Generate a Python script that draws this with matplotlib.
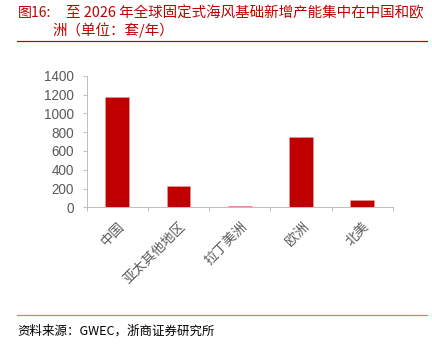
import matplotlib as mpl
mpl.use('Agg')
import matplotlib.pyplot as plt

plt.rcParams['font.family'] = ['Noto Sans CJK SC', 'DejaVu Sans']

# data
regions = ['中国', '亚太其他地区', '拉丁美洲', '欧洲', '北美']
capacity = [1170, 228, 14, 745, 78]
yticks = [0, 200, 400, 600, 800, 1000, 1200, 1400]

title_fig = '图16:'
title_1 = '至 2026 年全球固定式海风基础新增产能集中在中国和欧'
title_2 = '洲（单位：套/年）'
source = '资料来源：GWEC，浙商证券研究所'

# figure (pixels = points at dpi 72)
W, H = 432, 359
dpi = 72
fig = plt.figure(figsize=(W / dpi, H / dpi), dpi=dpi)

red = '#C00000'
grey = '#595959'
axis_grey = '#BFBFBF'

ax_left, ax_right = 86.7, 392.7
ax_top, ax_bottom = 75.7, 207.3
ax = fig.add_axes([ax_left / W, 1 - ax_bottom / H,
                   (ax_right - ax_left) / W, (ax_bottom - ax_top) / H])

x = list(range(len(regions)))
ax.bar(x, capacity, width=0.39, color=red, edgecolor='#E8A0A0', linewidth=0.5)

ax.set_xlim(-0.5, len(regions) - 0.5)
ax.set_ylim(0, 1400)
ax.set_yticks(yticks)
ax.set_yticklabels([str(v) for v in yticks], fontsize=13.5, color=grey,
                   family='Liberation Sans')

ax.set_xticks(x)
ax.set_xticklabels(regions, rotation=45, ha='right', va='top',
                   rotation_mode='anchor', fontsize=13.5, color=grey)
ax.set_xticks([i - 0.5 for i in range(len(regions) + 1)], minor=True)
ax.tick_params(axis='x', which='major', length=0, pad=12)
ax.tick_params(axis='x', which='minor', length=4, color=axis_grey, width=1)
ax.tick_params(axis='y', length=4, color=axis_grey, width=1, pad=9)

for s in ['top', 'right']:
    ax.spines[s].set_visible(False)
for s in ['left', 'bottom']:
    ax.spines[s].set_color(axis_grey)
    ax.spines[s].set_linewidth(1)

# title
fig.text(18 / W, 1 - 13 / H, title_fig, fontsize=14, color=red,
         ha='left', va='center')
fig.text(66 / W, 1 - 13 / H, title_1, fontsize=14.5, color=red,
         ha='left', va='center')
fig.text(52 / W, 1 - 30 / H, title_2, fontsize=14.5, color=red,
         ha='left', va='center')
fig.add_artist(plt.Line2D([17 / W, 427 / W], [1 - 40.5 / H, 1 - 40.5 / H],
                          color=red, linewidth=1.2))

# footer
fig.add_artist(plt.Line2D([17 / W, 427 / W], [1 - 315 / H, 1 - 315 / H],
                          color='#D9534F', linewidth=1.2, alpha=0.8))
fig.text(17 / W, 1 - 331 / H, source, fontsize=12.5, color='black',
         ha='left', va='center')

plt.savefig('out.png', dpi=dpi)
